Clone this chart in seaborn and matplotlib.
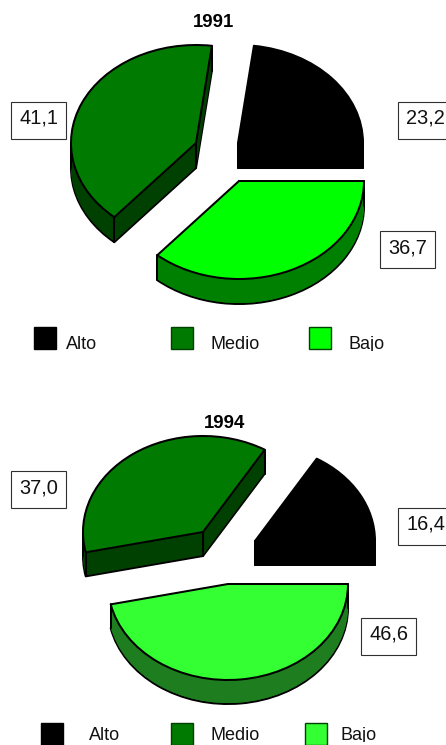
import numpy as np
import matplotlib
matplotlib.use("Agg")
import matplotlib.pyplot as plt
from matplotlib.patches import Rectangle
import seaborn as sns

sns.set_theme(style="white")
plt.rcParams["font.family"] = ["Liberation Sans", "DejaVu Sans"]

# data
categories = ["Alto", "Medio", "Bajo"]
labels_1991 = ["23,2", "41,1", "36,7"]
labels_1994 = ["16,4", "37,0", "46,6"]
values_1991 = [23.2, 41.1, 36.7]
values_1994 = [16.4, 37.0, 46.6]

# styles
top_1991 = ["#000000", "#007a00", "#00ff00"]
side_1991 = ["#000000", "#004000", "#008000"]
top_1994 = ["#000000", "#007a00", "#33ff33"]
side_1994 = ["#000000", "#004000", "#1e7d1e"]

W, H = 446, 745
LW = 1.45
fig = plt.figure(figsize=(W / 100, H / 100), dpi=100)


def make_axes(top, bottom):
    return fig.add_axes([0, 1 - bottom / H, 1, (bottom - top) / H])


def draw_pie(values, tops, sides, apexes, rx, ry, depth, top, bottom):
    ax = make_axes(top, bottom)
    ratio = ry / rx
    to_y = lambda py: -py / ratio

    def layer(colors, offset, edge, z):
        kw = dict(linewidth=LW, edgecolor=edge if edge else "none")
        wedges, _ = ax.pie(values, colors=colors, radius=rx, startangle=0,
                           wedgeprops=kw)
        for w, (ax_x, ax_y) in zip(wedges, apexes):
            w.set_center((ax_x, to_y(ax_y + offset)))
            w.set_zorder(z)
            w.set_joinstyle("round")
        return wedges

    layer(sides, depth, "black", 1)
    for d in range(depth):
        layer(sides, d, None, 2)
    wedges = layer(tops, 0, "black", 4)

    for w, (ax_x, ax_y) in zip(wedges, apexes):
        xs = [ax_x]
        ys = [ax_y]
        angles = [w.theta1, w.theta2]
        if w.theta1 <= 180 <= w.theta2:
            angles.append(180)
        for a in angles:
            xs.append(ax_x + rx * np.cos(np.radians(a)))
            ys.append(ax_y - ry * np.sin(np.radians(a)))
        for x, y in zip(xs, ys):
            ax.plot([x, x], [to_y(y), to_y(y + depth)], color="black",
                    lw=LW, zorder=3, solid_capstyle="round")

    ax.set_aspect("auto")
    ax.set_xlim(0, W)
    ax.set_ylim(to_y(bottom), to_y(top))
    ax.set_axis_off()


def annotate(top, bottom, title, title_xy, labels, boxes, squares, texts,
             sq_top, base, tops):
    ax = make_axes(top, bottom)
    ax.set_xlim(0, W)
    ax.set_ylim(bottom, top)
    ax.set_axis_off()
    ax.patch.set_alpha(0)
    ax.text(title_xy[0], title_xy[1], title, ha="center", va="baseline",
            fontsize=13.4, fontweight="bold", color="black")
    for lab, (x, y) in zip(labels, boxes):
        ax.add_patch(Rectangle((x, y), 55, 37, fc="white", ec="#303030",
                               lw=0.8, clip_on=False, zorder=5))
        ax.text(x + 27.5, y + 22, lab, ha="center", va="baseline",
                fontsize=14.4, color="#111111", zorder=6)
    for cat, sq, tx, col in zip(categories, squares, texts, tops):
        ax.add_patch(Rectangle((sq, sq_top), 22, 22, fc=col, ec="#004000"
                               if col != "#000000" else "black", lw=1.0,
                               clip_on=False))
        ax.text(tx, base, cat, ha="left", va="baseline", fontsize=13,
                color="#111111", clip_on=True)


draw_pie(values_1991, top_1991, side_1991,
         [(238, 143), (196, 143), (239, 181)], 125, 98, 25, 0, 351)
annotate(0, 351, "1991", (213.5, 27), labels_1991,
         [(398, 102), (11, 102), (380, 231)],
         [34, 171, 309], [66, 211, 349], 326.5, 349, top_1991)

draw_pie(values_1994, top_1994, side_1994,
         [(255, 541), (203, 532), (228, 584)], 120, 96, 24, 360, 742)
annotate(360, 742, "1994", (225, 427.5), labels_1994,
         [(398, 508), (11, 471), (361, 618)],
         [41, 171, 305], [89, 210, 341], 723, 740, top_1994)

fig.savefig("out.png", dpi=100, facecolor="white")
